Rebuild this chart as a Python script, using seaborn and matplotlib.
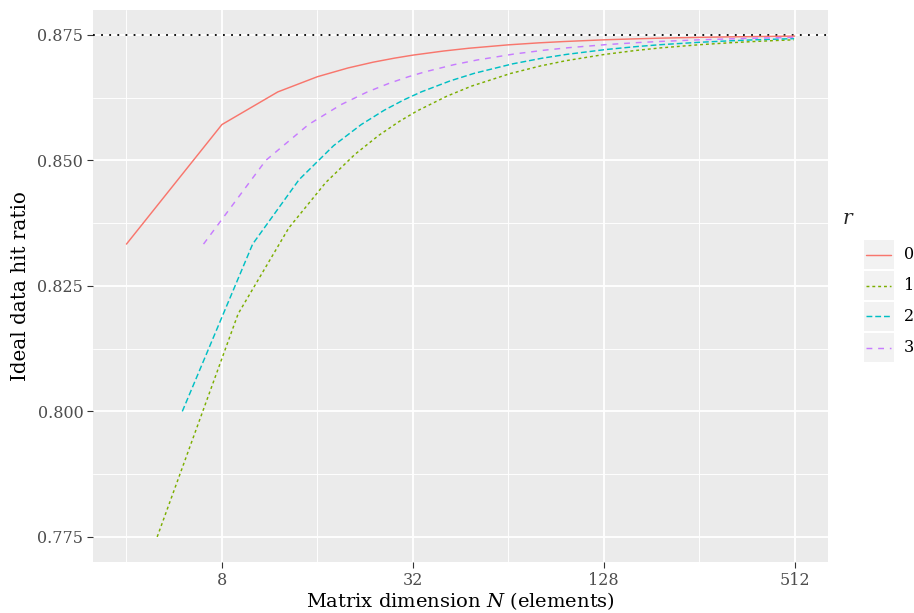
import pandas as pd
import matplotlib
matplotlib.use("Agg")
import matplotlib.pyplot as plt
import seaborn as sns
from matplotlib.lines import Line2D
from matplotlib.patches import Rectangle
from matplotlib.ticker import FixedLocator, NullFormatter

# matrix dimension N and ideal hit ratio, one list per r
n_r0 = [4, 8, 12, 16, 20, 24, 28, 32, 40, 48, 64, 80, 96, 128, 160, 192, 256, 320, 384, 448, 512]
hit_r0 = [0.83333, 0.85714, 0.86364, 0.86667, 0.86842, 0.86957, 0.87037, 0.87097, 0.87179, 0.87234,
          0.87302, 0.87342, 0.87368, 0.87402, 0.87421, 0.87435, 0.87451, 0.87461, 0.87467, 0.87472, 0.87476]

n_r1 = [5, 9, 13, 17, 21, 25, 29, 33, 41, 49, 65, 81, 97, 129, 161, 193, 257, 321, 385, 449, 509]
hit_r1 = [0.77500, 0.81944, 0.83654, 0.84559, 0.85119, 0.85500, 0.85776, 0.85985, 0.86280, 0.86480,
          0.86731, 0.86883, 0.86985, 0.87112, 0.87189, 0.87241, 0.87305, 0.87344, 0.87370, 0.87389, 0.87402]

n_r2 = [6, 10, 14, 18, 22, 26, 30, 34, 42, 50, 66, 82, 98, 130, 162, 194, 258, 322, 386, 450, 510]
hit_r2 = [0.80000, 0.83333, 0.84615, 0.85294, 0.85714, 0.86000, 0.86207, 0.86364, 0.86585, 0.86735,
          0.86923, 0.87037, 0.87113, 0.87209, 0.87267, 0.87306, 0.87354, 0.87383, 0.87403, 0.87416, 0.87426]

n_r3 = [7, 11, 15, 19, 23, 27, 31, 35, 43, 51, 67, 83, 99, 131, 163, 195, 259, 323, 387, 451, 511]
hit_r3 = [0.83333, 0.85000, 0.85714, 0.86111, 0.86364, 0.86538, 0.86667, 0.86765, 0.86905, 0.87000,
          0.87121, 0.87195, 0.87245, 0.87308, 0.87346, 0.87371, 0.87403, 0.87422, 0.87435, 0.87444, 0.87451]

r_levels = ["0", "1", "2", "3"]
ideal_ratio = 0.875
x_ticks = [8, 32, 128, 512]
x_minor = [4, 16, 64, 256]
y_ticks = [0.775, 0.800, 0.825, 0.850, 0.875]
y_minor = [0.7875, 0.8125, 0.8375, 0.8625]

palette = ["#F8766D", "#7CAE00", "#00BFC4", "#C77CFF"]
dash_styles = ["", (2, 2), (4, 2), (4, 4)]

frames = []
for r, n, h in zip(r_levels, [n_r0, n_r1, n_r2, n_r3], [hit_r0, hit_r1, hit_r2, hit_r3]):
    frames.append(pd.DataFrame({"N": n, "hit": h, "r": r}))
df = pd.concat(frames, ignore_index=True)

sns.set_style("darkgrid", {"axes.facecolor": "#EBEBEB", "grid.color": "white"})
plt.rcParams["font.family"] = ["DejaVu Serif"]
plt.rcParams["mathtext.fontset"] = "custom"
plt.rcParams["mathtext.it"] = "DejaVu Serif:italic"
plt.rcParams["mathtext.rm"] = "DejaVu Serif"

fig, ax = plt.subplots(figsize=(9.14, 6.13), dpi=100)
fig.subplots_adjust(left=0.1018, right=0.906, bottom=0.0832, top=0.984)

ax.axhline(ideal_ratio, color="black", lw=1.3, ls=(0, (1, 3.5)), zorder=3)
sns.lineplot(data=df, x="N", y="hit", hue="r", style="r", palette=palette,
             dashes=dash_styles, linewidth=1.05, estimator=None, sort=True,
             legend=False, ax=ax, zorder=4)

ax.set_xscale("log", base=2)
ax.set_xlim(2 ** 1.65, 2 ** 9.35)
ax.set_ylim(0.770, 0.880)
ax.xaxis.set_major_locator(FixedLocator(x_ticks))
ax.set_xticklabels([str(t) for t in x_ticks])
ax.xaxis.set_minor_locator(FixedLocator(x_minor))
ax.xaxis.set_minor_formatter(NullFormatter())
ax.yaxis.set_major_locator(FixedLocator(y_ticks))
ax.set_yticklabels([f"{t:.3f}" for t in y_ticks])
ax.yaxis.set_minor_locator(FixedLocator(y_minor))

ax.grid(which="major", color="white", lw=1.3)
ax.grid(which="minor", color="white", lw=0.65)
for s in ax.spines.values():
    s.set_visible(False)
ax.tick_params(which="major", length=4.5, width=0.8, color="#333333",
               labelcolor="#4D4D4D", labelsize=11.5, pad=2.5, bottom=True, left=True)
ax.tick_params(which="minor", length=0)

ax.set_xlabel("Matrix dimension $N$ (elements)", fontsize=14, color="black", labelpad=1)
ax.set_ylabel("Ideal data hit ratio", fontsize=14.3, color="black", labelpad=5)

# legend drawn by hand to get ggplot-style key boxes
W, H = 914, 613
fig.text(843 / W, 1 - 218 / H, "r", style="italic", fontsize=14.5, va="center")
for i, lvl in enumerate(r_levels):
    top = 240 + 31 * i
    yc = 1 - (top + 14.5) / H
    fig.patches.append(Rectangle((864 / W, 1 - (top + 29) / H), 30 / W, 29 / H,
                                 transform=fig.transFigure, facecolor="#F2F2F2",
                                 edgecolor="none"))
    ln = Line2D([866 / W, 891 / W], [yc, yc], transform=fig.transFigure,
                color=palette[i], lw=1.05)
    if dash_styles[i]:
        ln.set_dashes(dash_styles[i])
    fig.lines.append(ln)
    fig.text(904 / W, yc, lvl, fontsize=11.5, va="center", color="black")

fig.savefig("out.png", dpi=100)
